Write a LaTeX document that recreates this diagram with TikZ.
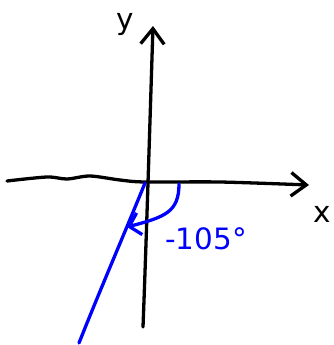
\documentclass[tikz,border=0pt]{standalone}
\usepackage{fontspec}
\setmainfont{DejaVu Sans}
\usetikzlibrary{arrows.meta}
\tikzset{
  axis/.style={line width=2.8pt, line cap=round, line join=round},
  turn/.style={axis, draw=blue},
  barb/.style={-{Straight Barb[length=13pt,width=20pt]}},
  lbl/.style={font=\fontsize{25}{30}\selectfont, inner sep=0pt},
}
\begin{document}
\begin{tikzpicture}[x=0.85pt,y=-0.85pt]
  \useasboundingbox (0,0) rectangle (334,345);
  \coordinate (O) at (145,183);
  \coordinate (xend) at (309,185); \coordinate (yend) at (153,26);
  % axes
  \draw[axis,barb] plot[smooth] coordinates {(7,181) (47,177) (67,179) (90,176) (120,180) (145,182) (220,182) (xend)};
  \draw[axis,barb] (143,327) .. controls (146,250) and (150,120) .. (yend);
  \node[lbl] (ylab) at (125,25) {y};
  \node[lbl] (xlab) at (322,214) {x};
  % vector and angle
  \coordinate (tail) at (79,343);
  \draw[turn] (O) .. controls (128,225) and (100,290) .. (tail);
  \coordinate (arcstart) at (179,184); \coordinate (arcend) at (127,227);
  \draw[turn,-{Straight Barb[length=9pt,width=19pt]}] (arcstart) .. controls (179,212) and (165,217) .. (arcend);
  \node[lbl,text=blue] (ang) at (206,239) {-105°};
\end{tikzpicture}
\end{document}
